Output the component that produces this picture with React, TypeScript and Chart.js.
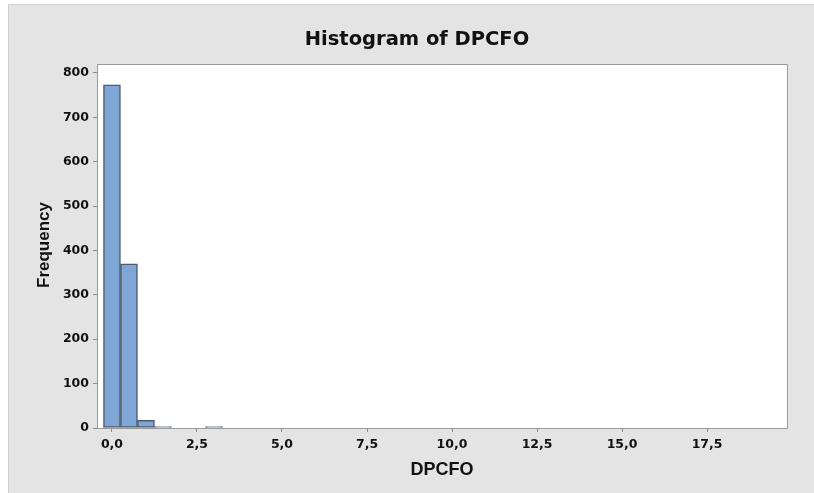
import React, { useEffect, useRef } from "react";
import { Chart, registerables } from "chart.js";

Chart.register(...registerables);

const TITLE = "Histogram of DPCFO";
const X_TITLE = "DPCFO";
const Y_TITLE = "Frequency";

const binCenters = [
  0, 0.5, 1, 1.5, 2, 2.5, 3, 3.5, 4, 4.5,
  5, 5.5, 6, 6.5, 7, 7.5, 8, 8.5, 9, 9.5,
  10, 10.5, 11, 11.5, 12, 12.5, 13, 13.5, 14, 14.5,
  15, 15.5, 16, 16.5, 17, 17.5, 18, 18.5, 19, 19.5,
];
const frequencies = [
  773, 370, 17, 3, 0, 0, 3, 0, 0, 0,
  0, 0, 0, 0, 0, 0, 0, 0, 0, 0,
  0, 0, 0, 0, 0, 0, 0, 0, 0, 0,
  0, 0, 0, 0, 0, 0, 0, 0, 0, 0,
];
const xTicks = [0, 2.5, 5, 7.5, 10, 12.5, 15, 17.5];
const yTicks = [0, 100, 200, 300, 400, 500, 600, 700, 800];
const xRange = [-0.44, 19.85];
const yRange = [0, 820];

const framePlugin = {
  id: "frame",
  beforeDraw(chart: any) {
    const { ctx, width, height, chartArea } = chart;
    ctx.save();
    ctx.fillStyle = "#ffffff";
    ctx.fillRect(0, 0, width, height);
    ctx.fillStyle = "#e4e4e4";
    ctx.fillRect(8, 4, width - 8, height - 4);
    ctx.strokeStyle = "#cfcfcf";
    ctx.lineWidth = 1;
    ctx.beginPath();
    ctx.moveTo(8.5, height);
    ctx.lineTo(8.5, 4.5);
    ctx.lineTo(width, 4.5);
    ctx.stroke();
    ctx.fillStyle = "#ffffff";
    ctx.fillRect(chartArea.left, chartArea.top, chartArea.right - chartArea.left, chartArea.bottom - chartArea.top);
    ctx.restore();
  },
  afterDraw(chart: any) {
    const { ctx, chartArea } = chart;
    ctx.save();
    ctx.strokeStyle = "#9a9a9a";
    ctx.lineWidth = 1;
    ctx.beginPath();
    ctx.moveTo(chartArea.left, chartArea.top + 0.5);
    ctx.lineTo(chartArea.right + 0.5, chartArea.top + 0.5);
    ctx.lineTo(chartArea.right + 0.5, chartArea.bottom);
    ctx.stroke();

    ctx.fillStyle = "#111111";
    ctx.font = "bold 19.5px 'DejaVu Sans'";
    ctx.textAlign = "center";
    ctx.textBaseline = "alphabetic";
    ctx.fillText(TITLE, 417, 44.5);
    ctx.font = "bold 18px 'Liberation Sans'";
    ctx.fillText(X_TITLE, 442, 474.5);
    ctx.translate(49, 245);
    ctx.rotate(-Math.PI / 2);
    ctx.font = "bold 17px 'Liberation Sans'";
    ctx.fillText(Y_TITLE, 0, 0);
    ctx.restore();
  },
};

export default function App() {
  const ref = useRef<HTMLCanvasElement>(null);
  useEffect(() => {
    if (!ref.current) return;
    const chart = new Chart(ref.current, {
      type: "bar",
      data: {
        datasets: [
          {
            data: binCenters.map((x, i) => ({ x, y: frequencies[i] })),
            backgroundColor: "#7ea7d8",
            borderColor: "#4f5b6b",
            borderWidth: 1.5,
            borderSkipped: false,
            barPercentage: 1,
            categoryPercentage: 1,
          },
        ],
      },
      options: {
        animation: false,
        responsive: false,
        maintainAspectRatio: false,
        devicePixelRatio: 1,
        layout: { padding: { top: 64, right: 27, left: 0, bottom: 0 } },
        plugins: { legend: { display: false }, tooltip: { enabled: false }, title: { display: false } },
        scales: {
          x: {
            type: "linear",
            offset: false,
            min: xRange[0],
            max: xRange[1],
            afterBuildTicks: (s: any) => {
              s.ticks = xTicks.map((v) => ({ value: v }));
            },
            afterFit: (s: any) => {
              s.height = 65;
            },
            grid: { display: true, offset: false, drawOnChartArea: false, drawTicks: true, tickLength: 4, color: "#8a8a8a" },
            border: { display: true, color: "#9a9a9a", width: 1 },
            ticks: {
              autoSkip: false,
              maxRotation: 0,
              padding: 5,
              color: "#111111",
              font: { family: "'DejaVu Sans'", weight: "bold", size: 12.5 },
              callback: (v: any) => Number(v).toFixed(1).replace(".", ","),
            },
          },
          y: {
            type: "linear",
            min: yRange[0],
            max: yRange[1],
            afterBuildTicks: (s: any) => {
              s.ticks = yTicks.map((v) => ({ value: v }));
            },
            afterFit: (s: any) => {
              s.width = 97;
            },
            grid: { display: true, drawOnChartArea: false, drawTicks: true, tickLength: 4, color: "#8a8a8a" },
            border: { display: true, color: "#9a9a9a", width: 1 },
            ticks: {
              autoSkip: false,
              padding: 4,
              color: "#111111",
              font: { family: "'DejaVu Sans'", weight: "bold", size: 12.5 },
            },
          },
        },
      },
      plugins: [framePlugin],
    });
    return () => chart.destroy();
  }, []);
  return (
    <div style={{ position: "fixed", left: 0, top: 0, width: 814, height: 493 }}>
      <canvas ref={ref} width={814} height={493} style={{ display: "block", width: 814, height: 493 }} />
    </div>
  );
}
